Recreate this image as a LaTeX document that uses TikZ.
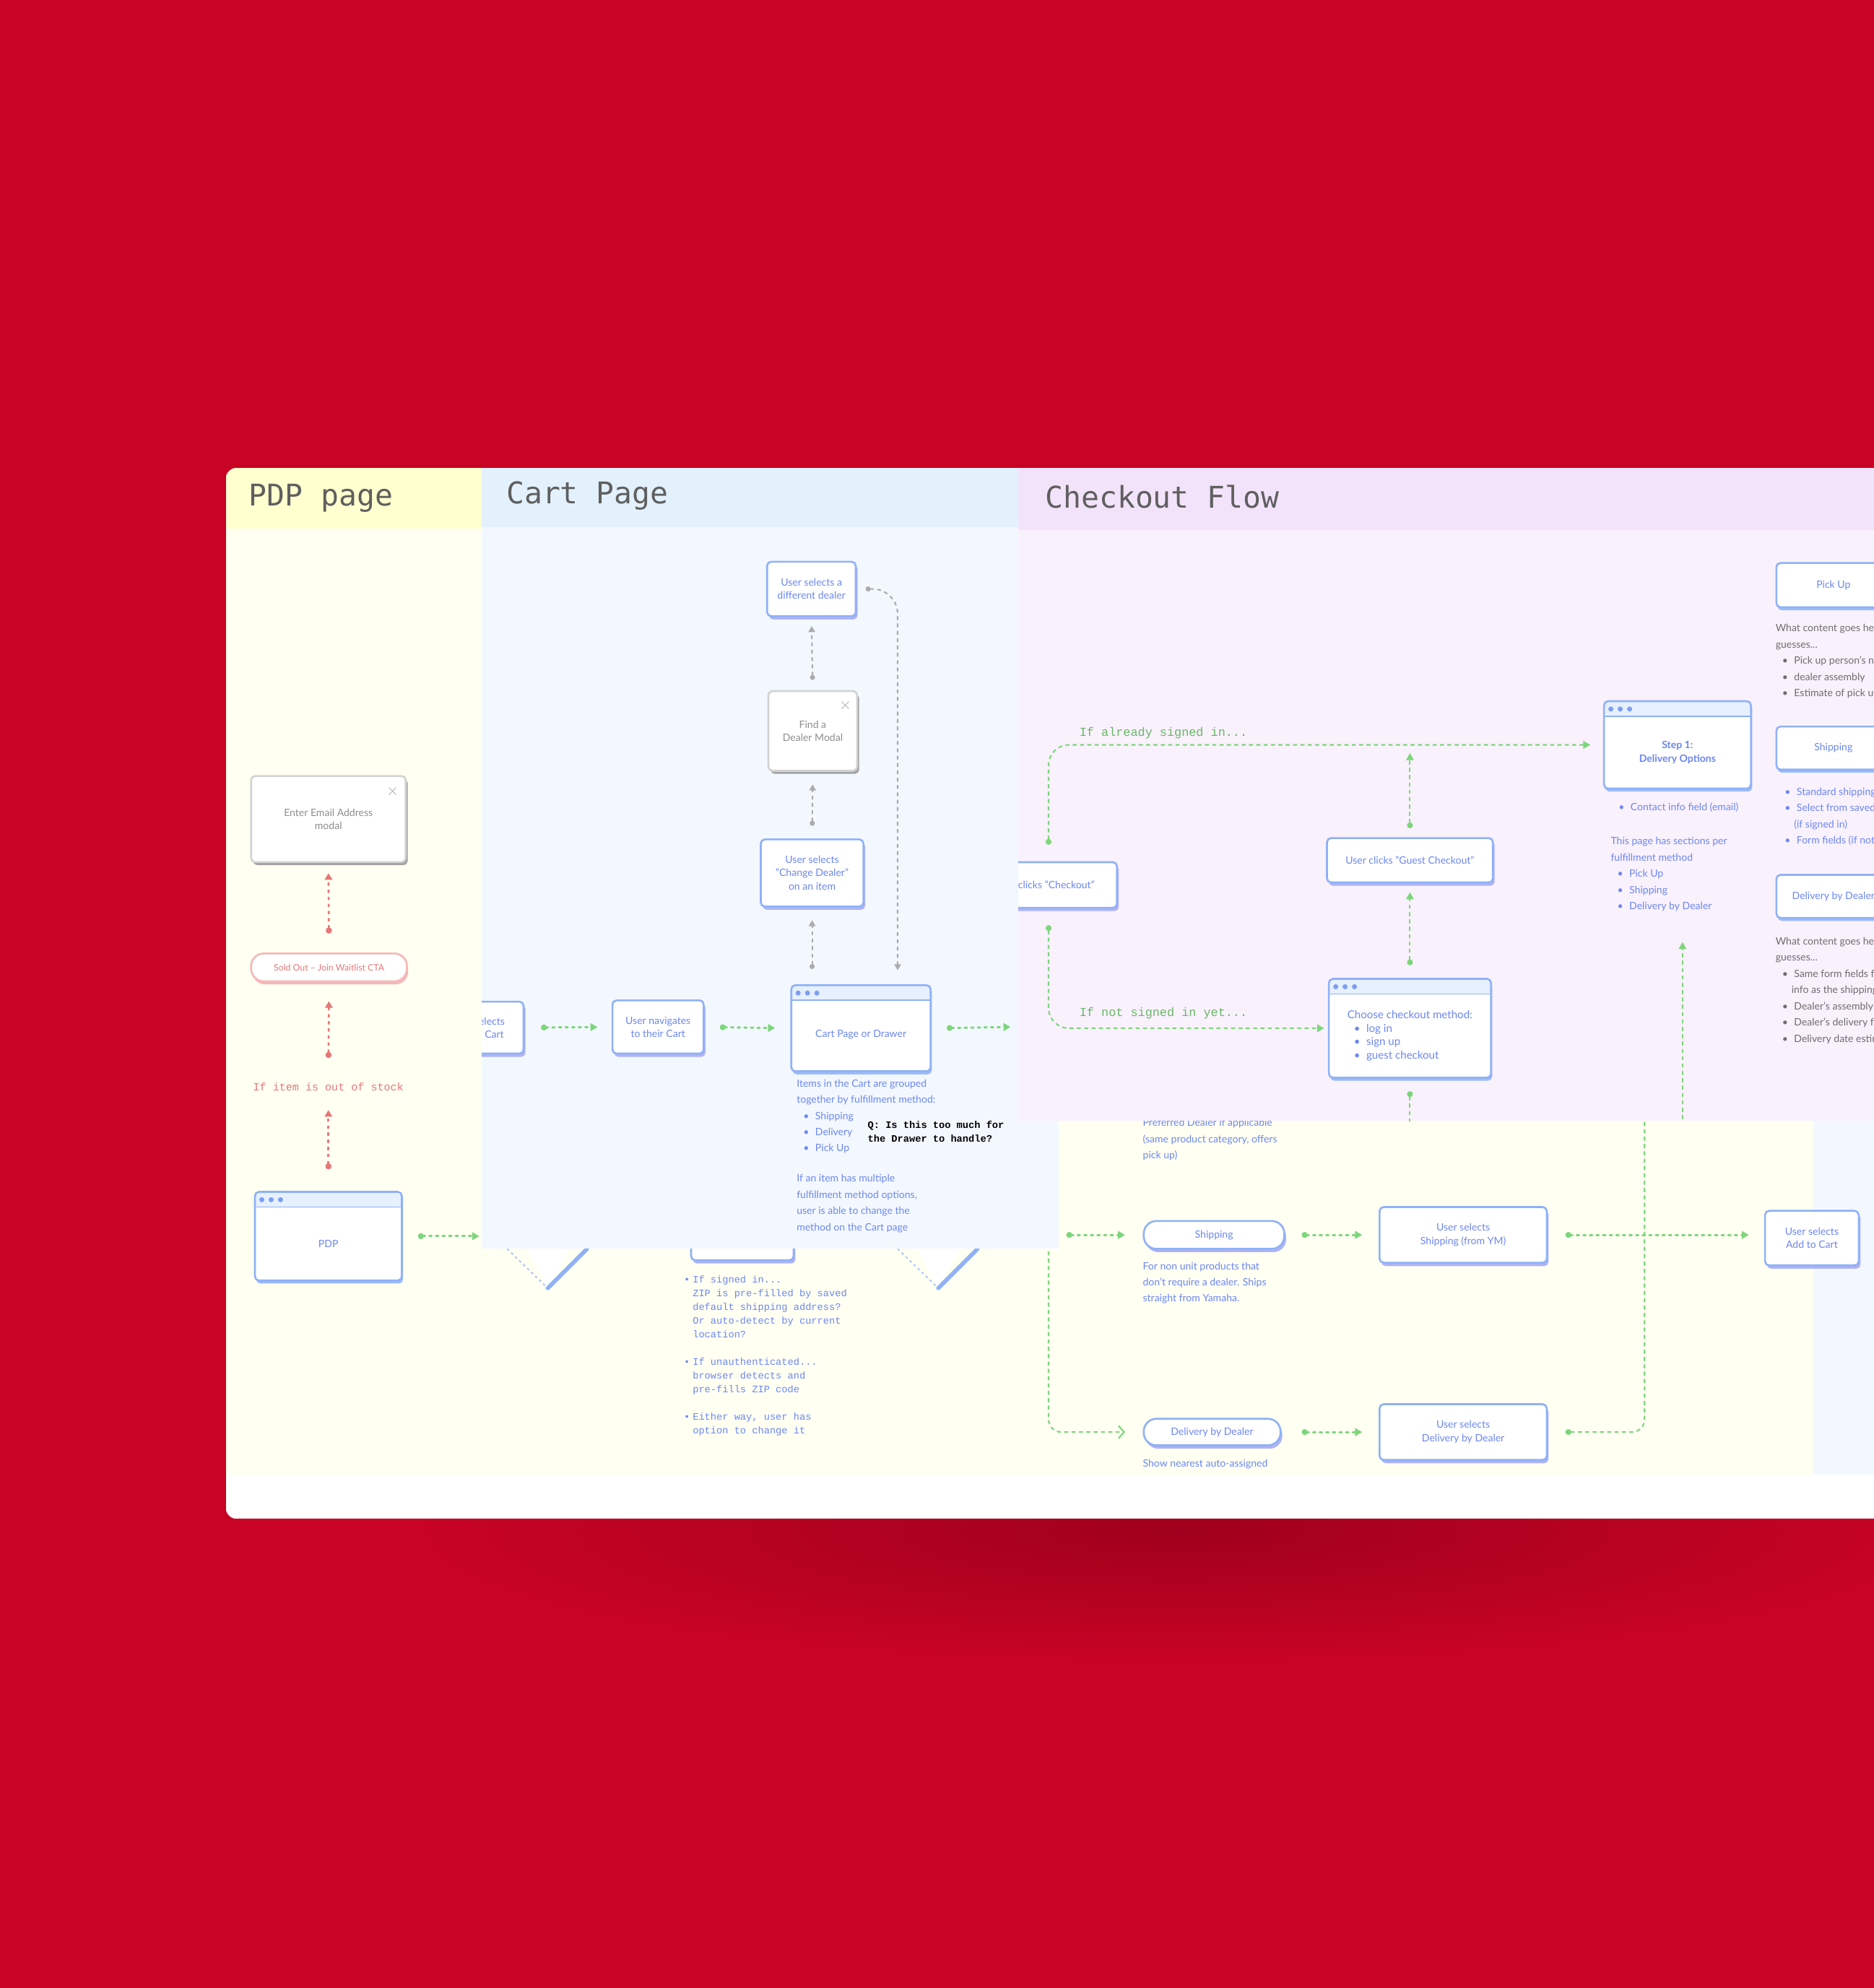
\documentclass[tikz,border=0pt]{standalone}
\usepackage{fontspec}
\setmainfont{Lato}
\setmonofont{Liberation Mono}
\newfontfamily\headfont{DejaVu Sans Mono}
\usetikzlibrary{arrows.meta,positioning,shadows,calc}
\definecolor{bgred}{HTML}{C80324}
\definecolor{shadowred}{HTML}{A0001D}
\definecolor{pdpbg}{HTML}{FFFFF2}
\definecolor{pdphead}{HTML}{FFFFCF}
\definecolor{cartbg}{HTML}{F3F8FF}
\definecolor{carthead}{HTML}{E3F1FD}
\definecolor{chkbg}{HTML}{F9F1FC}
\definecolor{chkhead}{HTML}{F3E3FA}
\definecolor{headtext}{HTML}{5F5F5F}
\definecolor{boxline}{HTML}{8FB1F7}
\definecolor{boxshade}{HTML}{AFB3F3}
\definecolor{winshade}{HTML}{9DBBF7}
\definecolor{winbar}{HTML}{E6F0FE}
\definecolor{dotblue}{HTML}{7C9EF2}
\definecolor{textblue}{HTML}{6C87F2}
\definecolor{flowgreen}{HTML}{7DD67B}
\definecolor{flowgray}{HTML}{ABABAB}
\definecolor{flowred}{HTML}{E67878}
\definecolor{pillred}{HTML}{F5B8B8}
\definecolor{modalline}{HTML}{D2D2D2}
\definecolor{modalshade}{HTML}{A3A3A3}
\definecolor{modaltext}{HTML}{8E8E8E}
\definecolor{notegray}{HTML}{6E6E6E}
\newcommand{\boxfont}{\fontsize{4}{5.2}\selectfont}
\newcommand{\notefont}{\fontsize{4}{6.4}\selectfont}
\newcommand{\codefont}{\ttfamily\fontsize{3.9}{5.4}\selectfont}
\newcommand{\bul}{\hspace*{2.6pt}\textbullet\hspace{2.4pt}}
\newcommand{\contline}{\hspace*{6.3pt}}
\begin{document}
\begin{tikzpicture}[x=0.0176cm,y=-0.0176cm,
 basebox/.style={draw=boxline,fill=white,line width=0.75pt,rounded corners=1.6pt,text=textblue,font=\boxfont,align=center,inner sep=1pt},
 box/.style={basebox,drop shadow={shadow xshift=0.7pt,shadow yshift=-1.3pt,fill=boxshade,opacity=1}},
 optbox/.style={basebox,drop shadow={shadow xshift=0.5pt,shadow yshift=-1.2pt,fill=winshade,opacity=1}},
 pill/.style={box,rounded corners=5pt},
 redpill/.style={basebox,rounded corners=5pt,draw=pillred,text=flowred,font=\fontsize{3.5}{4}\selectfont,
  drop shadow={shadow xshift=0.5pt,shadow yshift=-1.2pt,fill=pillred,opacity=1}},
 win/.style={basebox,drop shadow={shadow xshift=0.5pt,shadow yshift=-1.2pt,fill=winshade,opacity=1},
  path picture={
   \fill[winbar] (path picture bounding box.north west) rectangle ([yshift=-6pt]path picture bounding box.north east);
   \draw[boxline,line width=0.5pt] ([yshift=-6pt]path picture bounding box.north west) -- ([yshift=-6pt]path picture bounding box.north east);
   \foreach \k in {0,1,2}
    \fill[dotblue] ([xshift=2.7pt+\k*3.7pt,yshift=-3.1pt]path picture bounding box.north west) circle (1pt);}},
 modal/.style={basebox,draw=modalline,text=modaltext,drop shadow={shadow xshift=0.8pt,shadow yshift=-1.2pt,fill=modalshade,opacity=1}},
 closex/.style={anchor=center,inner sep=0pt,text=modaltext!70,font=\fontsize{4.5}{5}\selectfont},
 wintext/.style={text=textblue,font=\boxfont,align=center,inner sep=0pt},
 note/.style={anchor=north west,align=left,inner sep=0pt,text=textblue,font=\notefont},
 flow/.style={flowgreen,line width=0.85pt,line cap=round,dash pattern=on 0.9pt off 1.7pt,
  arrows={Circle[length=2.3pt]-Triangle[length=2.8pt,width=3pt]}},
 longflow/.style={flowgreen,line width=0.6pt,dash pattern=on 1.6pt off 1.3pt,rounded corners=5pt},
 grayflow/.style={flowgray,line width=0.6pt,dash pattern=on 1.5pt off 1.4pt,
  arrows={Circle[length=2pt]-Triangle[length=2.4pt,width=2.6pt]}},
 redflow/.style={flowred,line width=0.75pt,dash pattern=on 1.3pt off 1.5pt,
  arrows={Circle[length=2.4pt]-Triangle[length=2.6pt,width=3pt]}},
 steplabel/.style={anchor=west,inner sep=0pt,text=flowgreen!85!black,font=\ttfamily\fontsize{4.8}{5}\selectfont},
 head/.style={anchor=west,inner sep=0pt,text=headtext,font=\headfont\fontsize{11.8}{13}\selectfont}]
 \useasboundingbox (0,0) rectangle (1478,1568);
 \fill[bgred] (0,0) rectangle (1478,1568);
 \begin{scope}
 \clip (0,0) rectangle (1478,1568);
 % shadow under the board
 \shade[inner color=shadowred,outer color=bgred] (330,1105) rectangle (1530,1310);
 % the board
 \clip[rounded corners=4.5pt] (178,369) rectangle (1540,1198);
 \fill[white] (178,369) rectangle (1540,1198);
 \fill[pdpbg] (178,417) rectangle (1430,1163);
 \fill[cartbg] (1430,884) rectangle (1540,1163);
 \fill[pdphead] (178,369) rectangle (380,417);
 \node[head] (pdphd) at (196,393) {PDP page};

 % PDP column
 \node[modal,minimum width=61pt,minimum height=34pt] (email) at (259,646) {Enter Email Address\\modal};
 \node[closex] (emailx) at ($(email.north east)+(-11,13)$) {$\times$};
 \node[redpill,minimum width=61.5pt,minimum height=11pt] (soldout) at (259.5,763) {Sold Out -- Join Waitlist CTA};
 \node[text=flowred,font=\ttfamily\fontsize{4.3}{5}\selectfont,inner sep=1pt] (oos) at (259,857) {If item is out of stock};
 \node[win,minimum width=58pt,minimum height=35pt] (pdp) at (259,975) {};
 \node[wintext] (pdptxt) at ([yshift=-3pt]pdp.center) {PDP};
 \coordinate (pdpout) at (378,975);
 \draw[redflow,shorten <=8.5pt,shorten >=6.5pt] (pdp.north) -- (oos.south);
 \draw[redflow,shorten <=8.5pt,shorten >=7.5pt] (oos.north) -- (soldout.south);
 \draw[redflow,shorten <=7.5pt,shorten >=4pt] (soldout.north) -- (email.south);
 \draw[flow,shorten <=6pt] (pdp.east) -- (pdpout);

 % bits of the lower flow
 \fill[white] (402,960) -- (463,960) -- (432,1016) -- cycle;
 \draw[boxline!70,line width=0.6pt,dash pattern=on 1pt off 1.2pt] (400,985) -- (432,1016);
 \draw[boxline,line width=1.6pt,line cap=round] (463,985) -- (432,1016);
 \fill[white] (710,960) -- (771,960) -- (740,1016) -- cycle;
 \draw[boxline!70,line width=0.6pt,dash pattern=on 1pt off 1.2pt] (708,985) -- (740,1016);
 \draw[boxline,line width=1.6pt,line cap=round] (771,985) -- (740,1016);
 \node[box,minimum width=40.5pt,minimum height=24pt] (zipbox) at (585.5,970) {};
 \node[note,font=\codefont] (zipnote) at (539,1006) {%
  \makebox[3.5pt][l]{\textbullet}If signed in...\\
  \hspace*{3.5pt}ZIP is pre-filled by saved\\
  \hspace*{3.5pt}default shipping address?\\
  \hspace*{3.5pt}Or auto-detect by current\\
  \hspace*{3.5pt}location?\\[5.4pt]
  \makebox[3.5pt][l]{\textbullet}If unauthenticated...\\
  \hspace*{3.5pt}browser detects and\\
  \hspace*{3.5pt}pre-fills ZIP code\\[5.4pt]
  \makebox[3.5pt][l]{\textbullet}Either way, user has\\
  \hspace*{3.5pt}option to change it};

 \node[note] (dealnote) at (901,882) {Preferred Dealer if applicable\\(same product category, offers\\pick up)};
 \coordinate (shipin) at (841,974);
 \node[pill,minimum width=55.5pt,minimum height=11pt] (ship) at (957.5,974) {Shipping};
 \node[box,minimum width=66pt,minimum height=22pt] (selship) at (1154,974) {User selects\\Shipping (from YM)};
 \node[box,minimum width=37pt,minimum height=21.5pt] (addcart) at (1429,976.5) {User selects\\Add to Cart};
 \node[note] (shipnote) at (901,995) {For non unit products that\\don't require a dealer. Ships\\straight from Yamaha.};
 \coordinate (dealin) at (827,900);
 \node[pill,minimum width=54pt,minimum height=10.5pt] (deal) at (956,1129.5) {Delivery by Dealer};
 \node[box,minimum width=66pt,minimum height=22pt] (seldeal) at (1154,1129.5) {User selects\\Delivery by Dealer};
 \node[note] (nearnote) at (901,1151) {Show nearest auto-assigned};
 \coordinate (dealup) at (1297,870);
 \draw[flow,shorten >=7pt] (shipin) -- (ship.west);
 \draw[flow,shorten <=6.5pt,shorten >=6.5pt] (ship.east) -- (selship.west);
 \draw[flow,shorten <=7pt,shorten >=6pt] (selship.east) -- (selship.east -| addcart.west);
 \draw[longflow,-{Straight Barb[length=2.2pt,width=5pt]},shorten >=7pt] (dealin) |- (deal.west);
 \draw[flow,shorten <=8pt,shorten >=6.5pt] (deal.east) -- (seldeal.west);
 \draw[longflow,arrows={Circle[length=2.3pt]-},shorten <=7pt] (seldeal.east) -| (dealup);

 % Cart page panel
 \begin{scope}
  \fill[cartbg] (380,416) rectangle (835,985);
  \fill[carthead] (380,369) rectangle (835,416);
  \clip (380,369) rectangle (835,985);
  \node[head] (carthd) at (399,391) {Cart Page};
  \node[box,minimum width=36pt,minimum height=20.5pt] (selcart) at (377,810.5) {User selects\\Add to Cart};
  \node[box,minimum width=36pt,minimum height=21pt] (navcart) at (519,810) {User navigates\\to their Cart};
  \node[win,minimum width=55pt,minimum height=34pt] (cartpg) at (679,811) {};
  \node[wintext] (cartpgtxt) at ([yshift=-2.5pt]cartpg.center) {Cart Page or Drawer};
  \node[box,minimum width=40.5pt,minimum height=26.5pt] (chgdealer) at (640.5,688.5) {User selects\\"Change Dealer"\\on an item};
  \node[modal,minimum width=35pt,minimum height=31.5pt] (findmodal) at (641,576.5) {Find a\\Dealer Modal};
  \node[closex] (findx) at ($(findmodal.north east)+(-10,12)$) {$\times$};
  \node[box,minimum width=35pt,minimum height=21.5pt] (newdealer) at (640,464.5) {User selects a\\different dealer};
  \coordinate (cartout) at (797,810);
  \draw[flow,shorten <=6.5pt,shorten >=5.5pt] (selcart.east) -- (navcart.west);
  \draw[flow,shorten <=6pt,shorten >=6pt] (navcart.east) -- (cartpg.west);
  \draw[flow,shorten <=6pt] (cartpg.east) -- (cartout);
  \draw[grayflow,shorten <=6pt,shorten >=5pt] (chgdealer.south |- cartpg.north) -- (chgdealer.south);
  \draw[grayflow,shorten <=5pt,shorten >=5pt] (chgdealer.north) -- (findmodal.south);
  \draw[grayflow,shorten <=4pt,shorten >=3.5pt] (findmodal.north) -- (newdealer.south);
  \draw[grayflow,rounded corners=10pt,shorten <=3.5pt,shorten >=5.5pt] (newdealer.east) -| ([xshift=14.5pt]cartpg.north);
  \node[note] (groupnote) at (628,851) {Items in the Cart are grouped\\together by fulfillment method:\\\bul Shipping\\\bul Delivery\\\bul Pick Up};
  \node[note,text=black,font=\codefont\bfseries] (drawerq) at (684,884) {Q: Is this too much for\\the Drawer to handle?};
  \node[note] (multinote) at (628,926) {If an item has multiple\\fulfillment method options,\\user is able to change the\\method on the Cart page};
 \end{scope}

 % Checkout panel
 \begin{scope}
  \fill[chkbg] (803,418) rectangle (1540,884);
  \fill[chkhead] (803,369) rectangle (1540,418);
  \clip (803,369) rectangle (1540,884);
  \node[head] (chkhd) at (824,392) {Checkout Flow};
  \node[box,minimum width=57pt,minimum height=18pt] (clickchk) at (824,698) {User clicks "Checkout"};
  \node[box,minimum width=65.5pt,minimum height=17.5pt] (guest) at (1112,678.5) {User clicks "Guest Checkout"};
  \node[win,minimum width=64pt,minimum height=39pt] (method) at (1112,811) {};
  \node[wintext,align=left,font=\fontsize{4.3}{5.3}\selectfont] (methodtxt) at ([yshift=-3pt]method.center) {Choose checkout method:\\\bul log in\\\bul sign up\\\bul guest checkout};
  \node[win,minimum width=58pt,minimum height=34.5pt] (step) at (1323,587.5) {};
  \node[wintext,font=\boxfont\bfseries] (steptxt) at ([yshift=-3pt]step.center) {Step 1:\\Delivery Options};
  \node[note] (contact) at (1271,633) {\bul Contact info field (email)};
  \node[note] (sections) at (1270,660) {This page has sections per\\fulfillment method\\\bul Pick Up\\\bul Shipping\\\bul Delivery by Dealer};
  \node[steplabel] (signedin) at (851,578) {If already signed in...};
  \node[steplabel] (notsigned) at (851,799) {If not signed in yet...};
  \coordinate (guestup) at (1112,594);
  \coordinate (methoddown) at (1112,900);
  \coordinate (stepdown) at (1327,900);
  \coordinate (stepup) at (1327,743);
  \draw[longflow,rounded corners=8pt,arrows={Circle[length=2.3pt]-Triangle[length=2.8pt,width=3pt]},shorten <=6.5pt,shorten >=5pt] ([xshift=1.5pt]clickchk.north) |- (step.west);
  \draw[longflow,rounded corners=8pt,arrows={Circle[length=2.3pt]-Triangle[length=2.8pt,width=3pt]},shorten <=6.5pt,shorten >=1.5pt] ([xshift=1.5pt]clickchk.south) |- (method.west);
  \draw[longflow,arrows={Circle[length=2.3pt]-Triangle[length=2.8pt,width=3pt]},shorten <=5pt,shorten >=3.5pt] (method.north) -- (guest.south);
  \draw[longflow,arrows={Circle[length=2.3pt]-Triangle[length=2.8pt,width=3pt]},shorten <=3.5pt] (guest.north) -- (guestup);
  \draw[longflow,arrows={Circle[length=2.3pt]-},shorten <=5pt] (method.south) -- (methoddown);
  \draw[longflow,arrows={-Triangle[length=2.8pt,width=3pt]}] (stepdown) -- (stepup);
  % fulfillment sections
  \node[optbox,minimum width=45pt,minimum height=17.5pt] (pickup) at (1446,461.5) {Pick Up};
  \node[note,text=notegray] (pickupnote) at (1400,492) {What content goes here? Some\\guesses...\\\bul Pick up person's name\\\bul dealer assembly\\\bul Estimate of pick up date};
  \node[optbox,minimum width=45pt,minimum height=17pt] (shipopt) at (1446,590) {Shipping};
  \node[note] (shipoptnote) at (1402,621) {\bul Standard shipping\\\bul Select from saved addresses\\\contline(if signed in)\\\bul Form fields (if not signed in)};
  \node[optbox,minimum width=45pt,minimum height=17pt] (dealopt) at (1446,707) {Delivery by Dealer};
  \node[note,text=notegray] (dealoptnote) at (1400,739) {What content goes here? Some\\guesses...\\\bul Same form fields for contact\\\contline info as the shipping method\\\bul Dealer's assembly fee\\\bul Dealer's delivery fee\\\bul Delivery date estimate};
 \end{scope}
 \end{scope}
\end{tikzpicture}
\end{document}
